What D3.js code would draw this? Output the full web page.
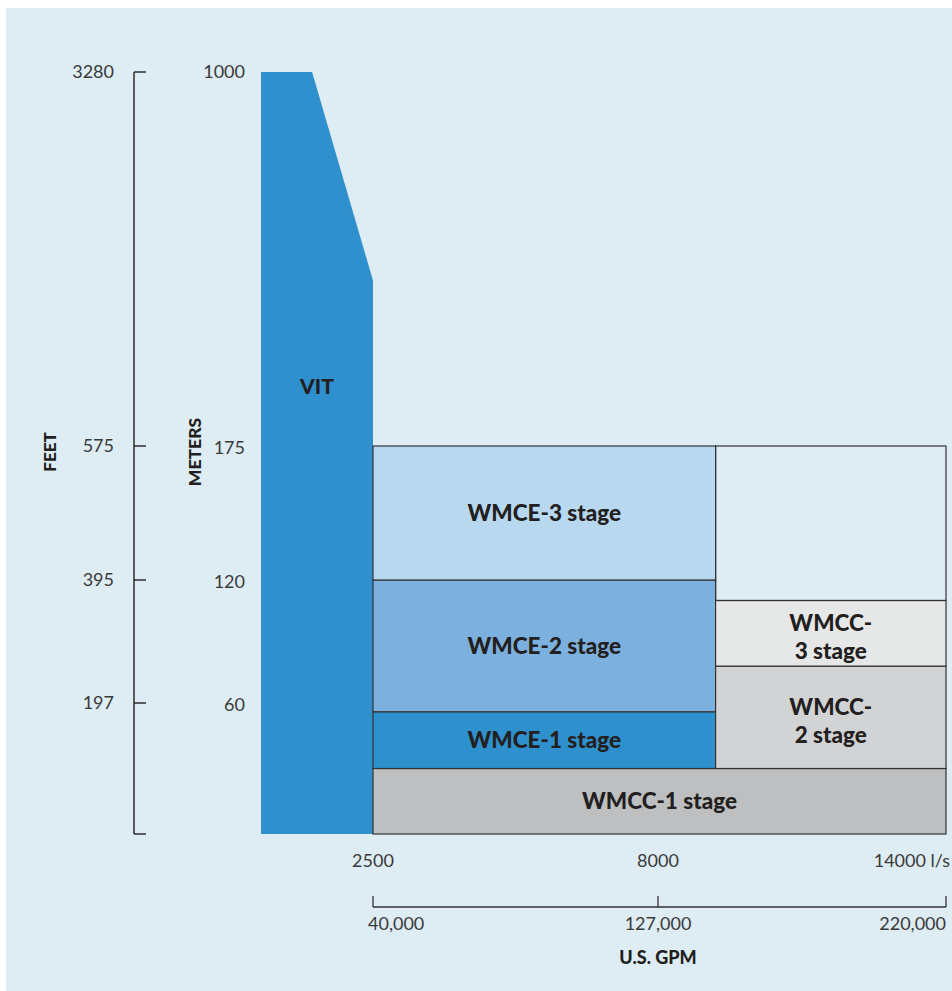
<!DOCTYPE html>
<html>
<head>
<meta charset="utf-8">
<script src="https://d3js.org/d3.v7.min.js"></script>
<style>
  body { margin: 0; background: #fff; }
  text { font-family: Lato, "Open Sans", sans-serif; }
</style>
</head>
<body>
<svg id="chart" width="952" height="991"></svg>
<script>

// head ticks (meters on one side, feet on the other)
var meterTicks = [0, 60, 120, 175, 1000];
var feetTicks = [0, 197, 395, 575, 3280];
// flow ticks, l/s and U.S. GPM
var flowTicks = [2500, 8000, 14000];
var gpmTicks = [40000, 127000, 220000];

// VIT envelope: flow (l/s) vs head (m)
var vitFlow = [0, 1140, 2500, 2500, 0];
var vitHead = [1000, 1000, 540, 0, 0];

// stage boxes: flow range (l/s) and head range (m)
var stageNames = ["WMCC-1 stage", "WMCE-1 stage", "WMCE-2 stage", "WMCE-3 stage", "WMCC-2 stage", "WMCC-3 stage", ""];
var stageFlowLo = [2500, 2500, 2500, 2500, 9200, 9200, 9200];
var stageFlowHi = [14000, 9200, 9200, 9200, 14000, 14000, 14000];
var stageHeadLo = [0, 30, 56, 120, 30, 78, 110];
var stageHeadHi = [30, 56, 120, 175, 78, 110, 175];
var stageColors = ["#bebfc1", "#2e90cd", "#7cb0de", "#b8d8f0", "#d2d3d5", "#e6e8e8", "none"];

var svg = d3.select("#chart");

svg.append("rect")
    .attr("x", 6).attr("y", 8)
    .attr("width", 946).attr("height", 983)
    .attr("fill", "#deecf4");

// the chart's scales are not linear, so they are piecewise
var y = d3.scaleLinear().domain(meterTicks).range([834, 703, 580, 446, 72]);
var yFt = d3.scaleLinear().domain(feetTicks).range([834, 703, 580, 446, 72]);
var x = d3.scaleLinear().domain([0, 2500, 8000, 14000]).range([261, 373, 658, 946]);
var xGpm = d3.scaleLinear().domain(gpmTicks).range([373, 658, 946]);

// VIT
var vitPts = vitFlow.map(function(f, i) { return [x(f), y(vitHead[i])]; });
svg.append("path")
    .attr("d", d3.line()(vitPts) + "Z")
    .attr("fill", "#2f90cd");
svg.append("text")
    .attr("x", 317).attr("y", 394)
    .attr("text-anchor", "middle")
    .attr("font-weight", 900).attr("font-size", 21)
    .attr("fill", "#231f20")
    .text("VIT");

// stage boxes
var stages = stageNames.map(function(n, i) {
  return {name: n, f0: stageFlowLo[i], f1: stageFlowHi[i], h0: stageHeadLo[i], h1: stageHeadHi[i], color: stageColors[i]};
});

svg.selectAll(".stage")
  .data(stages)
  .enter().append("rect")
    .attr("class", "stage")
    .attr("x", function(d) { return x(d.f0); })
    .attr("y", function(d) { return y(d.h1); })
    .attr("width", function(d) { return x(d.f1) - x(d.f0); })
    .attr("height", function(d) { return y(d.h0) - y(d.h1); })
    .attr("fill", function(d) { return d.color; })
    .attr("stroke", "#333")
    .attr("stroke-width", 1.2);

svg.selectAll(".stageLabel")
  .data(stages.filter(function(d) { return d.name; }))
  .enter().append("text")
    .attr("class", "stageLabel")
    .attr("text-anchor", "middle")
    .attr("font-weight", 900).attr("font-size", 22.5)
    .attr("fill", "#231f20")
    .attr("transform", function(d) {
      return "translate(" + (x(d.f0) + x(d.f1)) / 2 + "," + (y(d.h0) + y(d.h1)) / 2 + ")";
    })
    .each(function(d) {
      var t = d3.select(this);
      if (d.name.indexOf("WMCC-") == 0 && d.f0 > 2500) {
        var parts = d.name.split("-");
        t.append("tspan").attr("x", 0).attr("y", -2).text(parts[0] + "-");
        t.append("tspan").attr("x", 0).attr("y", 26).text(parts[1]);
      } else {
        t.append("tspan").attr("x", 0).attr("y", 8).text(d.name);
      }
    });

// feet axis
var feetAxis = svg.append("g").attr("transform", "translate(134,0)");
feetAxis.append("line")
    .attr("x1", 0).attr("x2", 0)
    .attr("y1", yFt(3280)).attr("y2", yFt(0))
    .attr("stroke", "#111").attr("stroke-width", 1.3);
feetAxis.selectAll(".tick")
  .data(feetTicks)
  .enter().append("line")
    .attr("x1", 0).attr("x2", 12)
    .attr("y1", function(d) { return yFt(d); })
    .attr("y2", function(d) { return yFt(d); })
    .attr("stroke", "#111").attr("stroke-width", 1.3);
feetAxis.selectAll(".lbl")
  .data(feetTicks.filter(function(d) { return d > 0; }))
  .enter().append("text")
    .attr("x", -20)
    .attr("y", function(d) { return yFt(d) + 6; })
    .attr("text-anchor", "end")
    .attr("font-size", 18).attr("fill", "#3a3a3a")
    .text(function(d) { return d; });

// meters labels
svg.selectAll(".mlbl")
  .data(meterTicks.filter(function(d) { return d > 0; }))
  .enter().append("text")
    .attr("x", 245)
    .attr("y", function(d) { return y(d) + (d == 1000 ? 6 : 8); })
    .attr("text-anchor", "end")
    .attr("font-size", 18).attr("fill", "#3a3a3a")
    .text(function(d) { return d; });

svg.append("text")
    .attr("transform", "translate(56,452) rotate(-90)")
    .attr("text-anchor", "middle")
    .attr("font-weight", 900).attr("font-size", 17).attr("fill", "#231f20")
    .text("FEET");
svg.append("text")
    .attr("transform", "translate(201,452) rotate(-90)")
    .attr("text-anchor", "middle")
    .attr("font-weight", 900).attr("font-size", 17.5).attr("fill", "#231f20")
    .text("METERS");

// l/s labels (last one carries the unit, pushed against the right edge)
svg.selectAll(".flbl")
  .data(flowTicks)
  .enter().append("text")
    .attr("x", function(d, i) { return i == 2 ? 950 : x(d); })
    .attr("y", 867)
    .attr("text-anchor", function(d, i) { return i == 2 ? "end" : "middle"; })
    .attr("font-size", 18).attr("fill", "#3a3a3a")
    .text(function(d, i) { return i == 2 ? d + " l/s" : d; });

// GPM axis
var gpm = svg.append("g").attr("transform", "translate(0,907)");
gpm.append("line")
    .attr("x1", xGpm(40000)).attr("x2", xGpm(220000))
    .attr("stroke", "#333").attr("stroke-width", 1.3);
gpm.selectAll(".tick")
  .data(gpmTicks)
  .enter().append("line")
    .attr("x1", function(d) { return xGpm(d); })
    .attr("x2", function(d) { return xGpm(d); })
    .attr("y1", 0).attr("y2", -11)
    .attr("stroke", "#333").attr("stroke-width", 1.3);
gpm.selectAll(".glbl")
  .data(gpmTicks)
  .enter().append("text")
    .attr("x", function(d, i) { return xGpm(d) + (i == 0 ? -5 : 0); })
    .attr("y", 23)
    .attr("text-anchor", function(d, i) { return ["start", "middle", "end"][i]; })
    .attr("font-size", 18).attr("fill", "#3a3a3a")
    .text(function(d) { return d3.format(",")(d); });

svg.append("text")
    .attr("x", 658).attr("y", 964)
    .attr("text-anchor", "middle")
    .attr("font-weight", 900).attr("font-size", 18).attr("fill", "#231f20")
    .text("U.S. GPM");

</script>
</body>
</html>
